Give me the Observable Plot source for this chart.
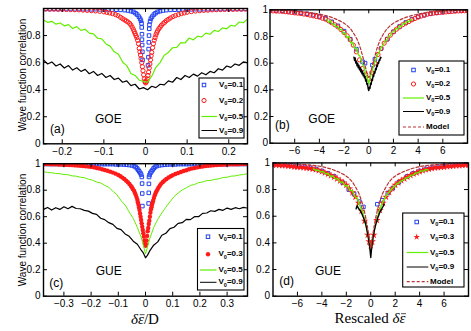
<!DOCTYPE html>
<html><head><meta charset="utf-8">
<script src="https://cdn.jsdelivr.net/npm/d3@7"></script>
<script src="https://cdn.jsdelivr.net/npm/@observablehq/plot@0.6"></script>
<style>
body{margin:0;background:#fff;}
#root{position:relative;width:471px;height:331px;overflow:hidden;background:#fff;}
#root svg{position:absolute;left:0;top:0;}
</style></head><body><div id="root"></div>
<script>
// ---------------- DATA ----------------
// Panel (a) GOE, x = delta eps / D
const blueA = [[-0.24,0.997],[-0.23,0.996],[-0.22,0.997],[-0.21,0.996],[-0.2,0.997],[-0.19,0.996],[-0.18,0.996],[-0.17,0.995],[-0.16,0.996],[-0.15,0.995],[-0.14,0.995],[-0.13,0.994],[-0.12,0.995],[-0.11,0.994],[-0.1,0.993],[-0.09,0.993],[-0.08,0.992],[-0.07,0.991],[-0.06,0.99],[-0.05,0.988],[-0.042,0.985],[-0.035,0.98],[-0.029,0.975],[-0.024,0.965],[-0.02,0.955],[-0.016,0.94],[-0.013,0.925],[-0.011,0.91],[-0.0095,0.89],[-0.009,0.86],[-0.0085,0.81],[-0.0085,0.77],[-0.008,0.73],[-0.0075,0.68],[-0.007,0.62],[0.006,0.58],[0.007,0.64],[0.0075,0.7],[0.008,0.75],[0.0085,0.8],[0.009,0.85],[0.0095,0.88],[0.011,0.905],[0.013,0.925],[0.016,0.94],[0.02,0.955],[0.024,0.965],[0.029,0.975],[0.035,0.98],[0.042,0.985],[0.05,0.988],[0.06,0.99],[0.07,0.991],[0.08,0.992],[0.09,0.993],[0.1,0.993],[0.11,0.994],[0.12,0.995],[0.13,0.994],[0.14,0.995],[0.15,0.995],[0.16,0.996],[0.17,0.995],[0.18,0.996],[0.19,0.996],[0.2,0.997],[0.21,0.996],[0.22,0.997],[0.23,0.996],[0.24,0.997]];
const redA = [[-0.24,0.996],[-0.23,0.995],[-0.22,0.995],[-0.21,0.994],[-0.2,0.994],[-0.19,0.993],[-0.18,0.992],[-0.17,0.991],[-0.16,0.99],[-0.15,0.988],[-0.14,0.986],[-0.13,0.984],[-0.12,0.982],[-0.11,0.979],[-0.1,0.975],[-0.093,0.971],[-0.086,0.967],[-0.079,0.962],[-0.072,0.955],[-0.066,0.947],[-0.06,0.935],[-0.055,0.925],[-0.05,0.915],[-0.046,0.907],[-0.042,0.9],[-0.038,0.89],[-0.035,0.878],[-0.032,0.862],[-0.029,0.845],[-0.027,0.83],[-0.025,0.815],[-0.023,0.8],[-0.021,0.785],[-0.019,0.765],[-0.017,0.74],[-0.015,0.705],[-0.0135,0.68],[-0.012,0.655],[-0.0105,0.63],[-0.009,0.6],[-0.0075,0.57],[-0.006,0.54],[-0.0045,0.51],[-0.003,0.48],[-0.0015,0.46],[0,0.45],[0.0015,0.455],[0.003,0.465],[0.0045,0.48],[0.006,0.505],[0.0075,0.53],[0.009,0.56],[0.0105,0.59],[0.012,0.62],[0.0135,0.65],[0.015,0.675],[0.017,0.71],[0.019,0.74],[0.021,0.765],[0.023,0.785],[0.025,0.805],[0.027,0.82],[0.029,0.835],[0.032,0.85],[0.035,0.862],[0.038,0.875],[0.042,0.888],[0.046,0.898],[0.05,0.91],[0.055,0.92],[0.06,0.93],[0.066,0.94],[0.072,0.948],[0.079,0.955],[0.086,0.962],[0.093,0.967],[0.1,0.972],[0.11,0.977],[0.12,0.981],[0.13,0.984],[0.14,0.986],[0.15,0.988],[0.16,0.99],[0.17,0.991],[0.18,0.992],[0.19,0.993],[0.2,0.994],[0.21,0.994],[0.22,0.995],[0.23,0.995],[0.24,0.996]];
const greenA = [[-0.245,0.915],[-0.235,0.898],[-0.225,0.905],[-0.215,0.884],[-0.205,0.893],[-0.195,0.872],[-0.185,0.881],[-0.175,0.852],[-0.165,0.866],[-0.155,0.838],[-0.145,0.847],[-0.135,0.818],[-0.125,0.812],[-0.115,0.78],[-0.105,0.775],[-0.095,0.738],[-0.085,0.722],[-0.075,0.68],[-0.065,0.662],[-0.055,0.605],[-0.045,0.578],[-0.035,0.52],[-0.025,0.505],[-0.015,0.47],[-0.005,0.462],[0.005,0.455],[0.015,0.5],[0.025,0.565],[0.035,0.6],[0.045,0.655],[0.055,0.675],[0.065,0.71],[0.075,0.712],[0.085,0.748],[0.095,0.745],[0.105,0.782],[0.115,0.768],[0.125,0.795],[0.135,0.79],[0.145,0.818],[0.155,0.81],[0.165,0.838],[0.175,0.83],[0.185,0.857],[0.195,0.85],[0.205,0.876],[0.215,0.87],[0.225,0.9],[0.235,0.895],[0.245,0.922]];
const blackA = [[-0.245,0.62],[-0.235,0.59],[-0.225,0.605],[-0.215,0.575],[-0.205,0.59],[-0.195,0.56],[-0.185,0.578],[-0.175,0.545],[-0.165,0.562],[-0.155,0.535],[-0.145,0.55],[-0.135,0.518],[-0.125,0.535],[-0.115,0.505],[-0.105,0.52],[-0.095,0.49],[-0.085,0.505],[-0.075,0.475],[-0.065,0.485],[-0.055,0.455],[-0.045,0.465],[-0.035,0.43],[-0.025,0.44],[-0.015,0.405],[-0.005,0.415],[0.005,0.4],[0.015,0.425],[0.025,0.415],[0.035,0.44],[0.045,0.435],[0.055,0.465],[0.065,0.455],[0.075,0.49],[0.085,0.475],[0.095,0.505],[0.105,0.49],[0.115,0.515],[0.125,0.5],[0.135,0.525],[0.145,0.51],[0.155,0.535],[0.165,0.525],[0.175,0.555],[0.185,0.545],[0.195,0.575],[0.205,0.565],[0.215,0.59],[0.225,0.58],[0.235,0.605],[0.245,0.6]];

// Panel (b) GOE rescaled
const blueB = [[-8,0.997],[-7.5,0.995],[-7,0.992],[-6.5,0.988],[-6,0.983],[-5.5,0.977],[-5,0.97],[-4.5,0.96],[-4,0.95],[-3.5,0.935],[-3,0.91],[-2.5,0.88],[-2,0.84],[-1.5,0.78],[-1,0.705],[-0.5,0.61],[-0.3,0.6],[0.3,0.585],[0.5,0.63],[1,0.71],[1.5,0.78],[2,0.835],[2.5,0.875],[3,0.905],[3.5,0.93],[4,0.948],[4.5,0.96],[5,0.97],[5.5,0.977],[6,0.983],[6.5,0.988],[7,0.992],[7.5,0.995],[8,0.997]];
const redB = [[-8,0.993],[-7.75,0.992],[-7.5,0.99],[-7.25,0.99],[-7,0.988],[-6.75,0.986],[-6.5,0.983],[-6.25,0.98],[-6,0.977],[-5.75,0.975],[-5.5,0.972],[-5.25,0.968],[-5,0.965],[-4.75,0.96],[-4.5,0.955],[-4.25,0.95],[-4,0.945],[-3.75,0.937],[-3.5,0.93],[-3.25,0.917],[-3,0.903],[-2.75,0.888],[-2.5,0.872],[-2.25,0.852],[-2,0.83],[-1.75,0.805],[-1.5,0.775],[-1.25,0.735],[-1,0.685],[-0.75,0.625],[-0.5,0.56],[-0.25,0.515],[0,0.48],[0.25,0.53],[0.5,0.6],[0.75,0.665],[1,0.71],[1.25,0.75],[1.5,0.78],[1.75,0.81],[2,0.835],[2.25,0.855],[2.5,0.872],[2.75,0.888],[3,0.9],[3.25,0.912],[3.5,0.925],[3.75,0.935],[4,0.945],[4.25,0.953],[4.5,0.96],[4.75,0.967],[5,0.972],[5.25,0.975],[5.5,0.978],[5.75,0.98],[6,0.982],[6.25,0.984],[6.5,0.986],[6.75,0.988],[7,0.99],[7.25,0.991],[7.5,0.992],[7.75,0.993],[8,0.994]];
const greenB = [[-3.4,0.93],[-3.25,0.905],[-3.1,0.92],[-2.95,0.89],[-2.8,0.895],[-2.65,0.87],[-2.5,0.875],[-2.35,0.85],[-2.2,0.855],[-2.05,0.82],[-1.9,0.825],[-1.75,0.79],[-1.6,0.8],[-1.45,0.75],[-1.3,0.755],[-1.15,0.71],[-1,0.715],[-0.85,0.665],[-0.7,0.65],[-0.55,0.6],[-0.4,0.575],[-0.25,0.52],[-0.1,0.48],[0,0.445],[0.1,0.49],[0.25,0.53],[0.4,0.585],[0.55,0.62],[0.7,0.665],[0.85,0.68],[1,0.72],[1.15,0.73],[1.3,0.765],[1.45,0.77],[1.6,0.8],[1.75,0.805],[1.9,0.835],[2.05,0.835],[2.2,0.86],[2.35,0.855],[2.5,0.88],[2.65,0.875],[2.8,0.9],[2.95,0.895],[3.1,0.915],[3.25,0.91],[3.4,0.93],[3.5,0.92]];
const blackB = [[-1.2,0.645],[-1.15,0.62],[-1.1,0.64],[-1.05,0.6],[-1,0.615],[-0.95,0.58],[-0.9,0.6],[-0.85,0.565],[-0.8,0.585],[-0.75,0.55],[-0.7,0.57],[-0.65,0.535],[-0.6,0.555],[-0.55,0.52],[-0.5,0.54],[-0.45,0.505],[-0.4,0.52],[-0.35,0.49],[-0.3,0.5],[-0.25,0.465],[-0.2,0.475],[-0.15,0.44],[-0.1,0.445],[-0.05,0.41],[0,0.395],[0.05,0.42],[0.1,0.41],[0.15,0.45],[0.2,0.44],[0.25,0.48],[0.3,0.47],[0.35,0.51],[0.4,0.5],[0.45,0.535],[0.5,0.525],[0.55,0.56],[0.6,0.55],[0.65,0.585],[0.7,0.575],[0.75,0.605],[0.8,0.6],[0.85,0.625],[0.9,0.62],[0.95,0.645],[1,0.64]];
const modelB = [[-8,0.998],[-7,0.996],[-6,0.99],[-5,0.982],[-4.4,0.975],[-4,0.968],[-3.4,0.955],[-3,0.943],[-2.6,0.928],[-2.3,0.915],[-2,0.9],[-1.7,0.878],[-1.45,0.855],[-1.2,0.82],[-0.95,0.78],[-0.8,0.745],[-0.65,0.705],[-0.5,0.655],[-0.35,0.6],[-0.2,0.545],[-0.08,0.505],[0,0.495],[0.08,0.505],[0.2,0.545],[0.35,0.6],[0.5,0.655],[0.65,0.705],[0.8,0.745],[0.95,0.78],[1.2,0.82],[1.45,0.855],[1.7,0.878],[2,0.9],[2.3,0.915],[2.6,0.928],[3,0.943],[3.4,0.955],[4,0.968],[4.4,0.975],[5,0.982],[6,0.99],[7,0.996],[8,0.998]];

// Panel (c) GUE
const blueC = [[-0.37,0.998],[-0.36,0.998],[-0.35,0.998],[-0.34,0.998],[-0.33,0.998],[-0.32,0.998],[-0.31,0.998],[-0.3,0.998],[-0.29,0.998],[-0.28,0.998],[-0.27,0.998],[-0.26,0.998],[-0.25,0.998],[-0.24,0.998],[-0.23,0.998],[-0.22,0.998],[-0.21,0.998],[-0.2,0.998],[-0.19,0.997],[-0.18,0.997],[-0.17,0.997],[-0.16,0.997],[-0.15,0.997],[-0.14,0.997],[-0.13,0.997],[-0.12,0.997],[-0.11,0.995],[-0.1,0.995],[-0.09,0.995],[-0.08,0.994],[-0.07,0.992],[-0.06,0.99],[-0.05,0.987],[-0.042,0.982],[-0.036,0.975],[-0.031,0.965],[-0.027,0.953],[-0.023,0.942],[-0.019,0.93],[-0.016,0.918],[-0.0135,0.9],[-0.0125,0.85],[-0.012,0.775],[-0.0115,0.68],[0.0115,0.7],[0.012,0.78],[0.0125,0.848],[0.013,0.9],[0.015,0.915],[0.018,0.93],[0.022,0.942],[0.026,0.953],[0.03,0.965],[0.035,0.975],[0.041,0.982],[0.05,0.987],[0.06,0.99],[0.07,0.992],[0.08,0.994],[0.09,0.995],[0.1,0.995],[0.11,0.995],[0.12,0.997],[0.13,0.997],[0.14,0.997],[0.15,0.997],[0.16,0.997],[0.17,0.997],[0.18,0.997],[0.19,0.997],[0.2,0.998],[0.21,0.998],[0.22,0.998],[0.23,0.998],[0.24,0.998],[0.25,0.998],[0.26,0.998],[0.27,0.998],[0.28,0.998],[0.29,0.998],[0.3,0.998],[0.31,0.998],[0.32,0.998],[0.33,0.998],[0.34,0.998],[0.35,0.998],[0.36,0.998],[0.37,0.998]];
const redC = [[-0.37,0.997],[-0.36,0.997],[-0.35,0.996],[-0.34,0.996],[-0.33,0.995],[-0.32,0.994],[-0.31,0.993],[-0.3,0.992],[-0.29,0.991],[-0.28,0.99],[-0.27,0.989],[-0.26,0.987],[-0.25,0.986],[-0.24,0.984],[-0.23,0.983],[-0.22,0.98],[-0.21,0.978],[-0.2,0.976],[-0.19,0.973],[-0.18,0.968],[-0.17,0.964],[-0.16,0.958],[-0.15,0.953],[-0.14,0.947],[-0.13,0.94],[-0.12,0.933],[-0.11,0.925],[-0.1,0.915],[-0.092,0.905],[-0.085,0.895],[-0.078,0.885],[-0.071,0.872],[-0.065,0.86],[-0.059,0.847],[-0.054,0.833],[-0.05,0.822],[-0.046,0.808],[-0.042,0.795],[-0.039,0.78],[-0.036,0.765],[-0.033,0.748],[-0.03,0.728],[-0.028,0.71],[-0.026,0.69],[-0.024,0.67],[-0.022,0.65],[-0.02,0.625],[-0.018,0.6],[-0.016,0.575],[-0.014,0.55],[-0.012,0.525],[-0.01,0.5],[-0.008,0.475],[-0.006,0.45],[-0.004,0.42],[-0.002,0.395],[0,0.38],[0.002,0.39],[0.004,0.42],[0.006,0.455],[0.008,0.49],[0.01,0.515],[0.012,0.545],[0.014,0.57],[0.016,0.6],[0.018,0.63],[0.02,0.655],[0.022,0.672],[0.024,0.69],[0.026,0.705],[0.028,0.72],[0.031,0.742],[0.034,0.762],[0.037,0.778],[0.04,0.79],[0.044,0.805],[0.048,0.82],[0.053,0.835],[0.058,0.85],[0.064,0.862],[0.07,0.873],[0.077,0.885],[0.085,0.896],[0.093,0.905],[0.1,0.913],[0.11,0.922],[0.12,0.93],[0.13,0.937],[0.14,0.945],[0.15,0.951],[0.16,0.958],[0.17,0.963],[0.18,0.968],[0.19,0.972],[0.2,0.976],[0.21,0.979],[0.22,0.982],[0.23,0.984],[0.24,0.986],[0.25,0.988],[0.26,0.99],[0.27,0.991],[0.28,0.992],[0.29,0.993],[0.3,0.994],[0.31,0.995],[0.32,0.995],[0.33,0.996],[0.34,0.996],[0.35,0.997],[0.36,0.997],[0.37,0.998]];
const greenC = [[-0.375,0.94],[-0.36,0.933],[-0.345,0.932],[-0.33,0.926],[-0.315,0.925],[-0.3,0.918],[-0.285,0.917],[-0.27,0.908],[-0.255,0.906],[-0.24,0.898],[-0.225,0.895],[-0.21,0.883],[-0.195,0.876],[-0.18,0.862],[-0.165,0.855],[-0.15,0.836],[-0.135,0.822],[-0.12,0.792],[-0.105,0.766],[-0.09,0.722],[-0.075,0.687],[-0.06,0.636],[-0.045,0.587],[-0.03,0.52],[-0.015,0.44],[-0.0075,0.38],[0,0.32],[0.0075,0.37],[0.015,0.43],[0.03,0.518],[0.045,0.58],[0.06,0.628],[0.075,0.672],[0.09,0.712],[0.105,0.752],[0.12,0.778],[0.135,0.802],[0.15,0.818],[0.165,0.836],[0.18,0.843],[0.195,0.857],[0.21,0.862],[0.225,0.872],[0.24,0.874],[0.255,0.882],[0.27,0.886],[0.285,0.896],[0.3,0.898],[0.315,0.906],[0.33,0.908],[0.345,0.915],[0.36,0.918],[0.375,0.925]];
const blackC = [[-0.375,0.655],[-0.36,0.67],[-0.345,0.65],[-0.33,0.668],[-0.315,0.655],[-0.3,0.675],[-0.285,0.66],[-0.27,0.678],[-0.255,0.662],[-0.24,0.66],[-0.225,0.648],[-0.21,0.642],[-0.195,0.625],[-0.18,0.618],[-0.165,0.588],[-0.15,0.578],[-0.135,0.555],[-0.12,0.542],[-0.105,0.512],[-0.09,0.502],[-0.075,0.47],[-0.06,0.452],[-0.045,0.415],[-0.03,0.392],[-0.015,0.345],[-0.0075,0.325],[0,0.29],[0.0075,0.31],[0.015,0.34],[0.03,0.385],[0.045,0.41],[0.06,0.46],[0.075,0.475],[0.09,0.51],[0.105,0.52],[0.12,0.55],[0.135,0.555],[0.15,0.58],[0.165,0.578],[0.18,0.6],[0.195,0.6],[0.21,0.625],[0.225,0.628],[0.24,0.645],[0.255,0.64],[0.27,0.655],[0.285,0.648],[0.3,0.665],[0.315,0.655],[0.33,0.668],[0.345,0.66],[0.36,0.67],[0.375,0.665]];

// Panel (d) GUE rescaled
const blueD = [[-8,0.99],[-7.5,0.988],[-7,0.985],[-6.5,0.982],[-6,0.978],[-5.5,0.972],[-5,0.965],[-4.5,0.955],[-4,0.94],[-3.5,0.922],[-3,0.9],[-2.3,0.852],[-1.8,0.8],[-1.36,0.767],[-0.95,0.71],[-0.6,0.67],[0.54,0.69],[0.95,0.72],[1.4,0.775],[1.8,0.81],[2.3,0.855],[3,0.9],[3.5,0.922],[4,0.94],[4.5,0.955],[5,0.965],[5.5,0.972],[6,0.978],[6.5,0.982],[7,0.985],[7.5,0.988],[8,0.99]];
const redD = [[-8,0.985],[-7.75,0.984],[-7.5,0.982],[-7.25,0.981],[-7,0.98],[-6.75,0.977],[-6.5,0.975],[-6.25,0.972],[-6,0.97],[-5.75,0.967],[-5.5,0.965],[-5.25,0.962],[-5,0.96],[-4.75,0.955],[-4.5,0.95],[-4.25,0.943],[-4,0.935],[-3.75,0.926],[-3.5,0.917],[-3.25,0.906],[-3,0.895],[-2.75,0.882],[-2.5,0.867],[-2.25,0.852],[-2,0.835],[-1.75,0.807],[-1.5,0.778],[-1.25,0.745],[-1,0.7],[-0.75,0.64],[-0.5,0.565],[-0.25,0.46],[-0.12,0.41],[0,0.38],[0.12,0.41],[0.25,0.46],[0.5,0.57],[0.75,0.645],[1,0.7],[1.25,0.745],[1.5,0.78],[1.75,0.808],[2,0.835],[2.25,0.852],[2.5,0.868],[2.75,0.882],[3,0.895],[3.25,0.907],[3.5,0.918],[3.75,0.927],[4,0.935],[4.25,0.943],[4.5,0.95],[4.75,0.955],[5,0.96],[5.25,0.963],[5.5,0.966],[5.75,0.968],[6,0.97],[6.25,0.973],[6.5,0.975],[6.75,0.977],[7,0.98],[7.25,0.981],[7.5,0.982],[7.75,0.984],[8,0.985]];
const greenD = [[-4.7,0.955],[-4.5,0.945],[-4.3,0.947],[-4.1,0.932],[-3.9,0.935],[-3.7,0.918],[-3.5,0.92],[-3.3,0.9],[-3.1,0.902],[-2.9,0.88],[-2.7,0.882],[-2.5,0.855],[-2.3,0.858],[-2.1,0.828],[-1.9,0.83],[-1.7,0.795],[-1.5,0.79],[-1.3,0.748],[-1.1,0.735],[-0.9,0.68],[-0.7,0.64],[-0.5,0.57],[-0.3,0.49],[-0.1,0.4],[0,0.33],[0.1,0.4],[0.3,0.5],[0.5,0.575],[0.7,0.64],[0.9,0.69],[1.1,0.725],[1.3,0.76],[1.5,0.78],[1.7,0.805],[1.9,0.82],[2.1,0.84],[2.3,0.85],[2.5,0.865],[2.7,0.872],[2.9,0.888],[3.1,0.892],[3.3,0.908],[3.5,0.91],[3.7,0.925],[3.9,0.926],[4.1,0.94],[4.3,0.938],[4.5,0.95],[4.7,0.948]];
const blackD = [[-1.2,0.655],[-1.15,0.672],[-1.1,0.678],[-1.05,0.665],[-1,0.66],[-0.95,0.652],[-0.9,0.648],[-0.85,0.64],[-0.8,0.632],[-0.75,0.622],[-0.7,0.612],[-0.65,0.6],[-0.6,0.59],[-0.55,0.578],[-0.5,0.565],[-0.45,0.55],[-0.4,0.535],[-0.35,0.515],[-0.3,0.49],[-0.25,0.465],[-0.2,0.44],[-0.15,0.41],[-0.1,0.38],[-0.05,0.34],[0,0.29],[0.05,0.34],[0.1,0.385],[0.15,0.415],[0.2,0.445],[0.25,0.47],[0.3,0.495],[0.35,0.515],[0.4,0.535],[0.45,0.55],[0.5,0.565],[0.55,0.58],[0.6,0.595],[0.65,0.605],[0.7,0.62],[0.75,0.63],[0.8,0.64],[0.85,0.648],[0.9,0.655],[0.95,0.665],[1,0.672],[1.05,0.682],[1.1,0.69]];
const modelD = [[-8,0.995],[-7,0.993],[-6,0.99],[-5,0.985],[-4.35,0.978],[-3.8,0.968],[-3.27,0.955],[-2.7,0.935],[-2.18,0.912],[-1.8,0.887],[-1.5,0.857],[-1.2,0.812],[-0.95,0.767],[-0.75,0.715],[-0.54,0.645],[-0.4,0.585],[-0.27,0.52],[-0.13,0.44],[0,0.355],[0.13,0.44],[0.27,0.52],[0.4,0.585],[0.54,0.645],[0.75,0.715],[0.95,0.767],[1.2,0.812],[1.5,0.857],[1.8,0.887],[2.18,0.912],[2.7,0.935],[3.27,0.955],[3.8,0.968],[4.35,0.978],[5,0.985],[6,0.99],[7,0.993],[8,0.995]];

// Tick values and legend labels
const ticksXA = [-0.2,-0.1,0,0.1,0.2];
const ticksXC = [-0.3,-0.2,-0.1,0,0.1,0.2,0.3];
const ticksXR = [-6,-4,-2,0,2,4,6];
const ticksY = [0,0.2,0.4,0.6,0.8];
const ticksY1 = [0,0.2,0.4,0.6,0.8,1];
const legendGOE = ["0.1","0.2","0.5","0.9"];
const legendGUE = ["0.1","0.3","0.5","0.9"];

// ---------------- STYLE ----------------
const BLUE = "#2040f0", RED = "#ff1a1a", GREEN = "#62ee00", MODEL = "#b83232";
const SANS = "'Liberation Sans', Arial, Helvetica, sans-serif";
const SERIF = "'Liberation Serif', 'DejaVu Serif', serif";
const fmt = d => d === 0 ? "0" : (d < 0 ? "\u2212" : "") + Math.abs(d);
const X = d => d[0], Y = d => d[1];

const sq = data => Plot.dot(data, {x: X, y: Y, symbol: "square", r: 2, stroke: BLUE, fill: "none", strokeWidth: 1, clip: true});
const ring = data => Plot.dot(data, {x: X, y: Y, r: 2.1, stroke: RED, fill: "none", strokeWidth: 1, clip: true});
const dotF = data => Plot.dot(data, {x: X, y: Y, r: 2.2, fill: RED, stroke: "none", clip: true});
const star = data => Plot.dot(data, {x: X, y: Y, symbol: "star", r: 2.4, fill: RED, stroke: "none", clip: true});
const ln = (data, c, w, dash) => Plot.line(data, {x: X, y: Y, stroke: c, strokeWidth: w, strokeDasharray: dash, clip: true});

function panel(o) {
  const [l, r, t, b] = o.box;
  const [x0, x1] = o.xDomain;
  const ky = 4 / (b - t), kx = 4 * (x1 - x0) / (r - l);
  return Plot.plot({
    width: 471, height: 331,
    marginLeft: l, marginRight: 471 - r, marginTop: t, marginBottom: 331 - b,
    x: {domain: o.xDomain}, y: {domain: [0, 1]},
    style: {background: "transparent", overflow: "visible", fontFamily: SANS},
    marks: [
      ...o.marks,
      Plot.ruleX(o.xTicks, {x: d => d, y1: 0, y2: ky, stroke: "black"}),
      Plot.ruleX(o.xTicks, {x: d => d, y1: 1 - ky, y2: 1, stroke: "black"}),
      Plot.ruleY(ticksY1, {y: d => d, x1: x0, x2: x0 + kx, stroke: "black"}),
      Plot.ruleY(ticksY1, {y: d => d, x1: x1 - kx, x2: x1, stroke: "black"}),
      Plot.axisX({ticks: o.xTicks, tickSize: 0, tickPadding: 4, tickFormat: fmt, fontSize: 10, label: null}),
      Plot.axisY({ticks: o.yTicks, tickSize: 0, tickPadding: o.yPad, tickFormat: fmt, fontSize: 10, label: null}),
      Plot.frame({stroke: "black", strokeWidth: 1.4})
    ]
  });
}

const root = document.getElementById("root");
root.append(panel({box: [43, 247, 8, 143.3], xDomain: [-0.245, 0.245], xTicks: ticksXA, yTicks: ticksY, yPad: 3,
  marks: [sq(blueA), ring(redA), ln(greenA, GREEN, 1.2), ln(blackA, "black", 1.2)]}));
root.append(panel({box: [269.5, 467, 9.3, 142.7], xDomain: [-8, 8], xTicks: ticksXR, yTicks: ticksY1, yPad: 2,
  marks: [sq(blueB), ring(redB), ln(greenB, GREEN, 1.3), ln(blackB, "black", 1.4), ln(modelB, MODEL, 1.2, "3,2")]}));
root.append(panel({box: [43, 247, 163.2, 295.7], xDomain: [-0.375, 0.375], xTicks: ticksXC, yTicks: ticksY1, yPad: 3,
  marks: [sq(blueC), dotF(redC), ln(greenC, GREEN, 1), ln(blackC, "black", 1.2)]}));
root.append(panel({box: [272.5, 468, 162.4, 295.7], xDomain: [-8, 8], xTicks: ticksXR, yTicks: ticksY1, yPad: 3,
  marks: [sq(blueD), star(redD), ln(greenD, GREEN, 1.4), ln(blackD, "black", 1.4), ln(modelD, MODEL, 1.2, "3,2")]}));

// ---------------- TEXT & LEGENDS ----------------
const ov = d3.select(root).append("svg").attr("width", 471).attr("height", 331).style("font-family", SANS);

[75, 230].forEach(cy => {
  ov.append("text").attr("transform", `translate(22.7,${cy}) rotate(-90)`).attr("text-anchor", "middle")
    .attr("dy", "0.35em").attr("font-size", 10).text("Wave function correlation");
});

// x-axis labels with a bar drawn over epsilon
function epsLabel(x, y, prefix, suffix) {
  const t = ov.append("text").attr("x", x).attr("y", y).attr("text-anchor", "middle").attr("font-family", SERIF).attr("font-size", 15);
  if (prefix) t.append("tspan").text(prefix);
  t.append("tspan").attr("font-style", "italic").text("\u03b4\u03b5");
  if (suffix) t.append("tspan").text(suffix);
  const idx = (prefix ? prefix.length : 0) + 1;
  const e = t.node().getExtentOfChar(idx);
  ov.append("line").attr("x1", e.x + 1.6).attr("x2", e.x + e.width + 0.6).attr("y1", y - 9.3).attr("y2", y - 9.3)
    .attr("stroke", "#222").attr("stroke-width", 0.8);
}
epsLabel(145, 324, "", "/D");
epsLabel(370, 323, "Rescaled ", "");

[["GOE", 95, 123.3], ["(a)", 50, 132.5], ["GOE", 308.3, 122.7], ["(b)", 275, 129.2],
 ["GUE", 95.7, 275], ["(c)", 49.3, 286.5], ["GUE", 315, 275], ["(d)", 279.3, 284.5]].forEach(([s, x, y]) => {
  ov.append("text").attr("x", x).attr("y", y).attr("font-size", 12).text(s);
});

function legend(L) {
  const g = ov.append("g");
  g.append("rect").attr("x", L.box[0]).attr("y", L.box[1]).attr("width", L.box[2] - L.box[0]).attr("height", L.box[3] - L.box[1])
    .attr("fill", "white").attr("stroke", "black").attr("stroke-width", 1.1);
  L.rows.forEach((row, i) => {
    const y = L.ys[i];
    if (row.kind === "square") g.append("rect").attr("x", L.sx - 1.75).attr("y", y - 1.75).attr("width", 3.5).attr("height", 3.5).attr("fill", "none").attr("stroke", BLUE);
    else if (row.kind === "ring") g.append("circle").attr("cx", L.sx).attr("cy", y).attr("r", 2.1).attr("fill", "none").attr("stroke", RED);
    else if (row.kind === "dot") g.append("circle").attr("cx", L.sx).attr("cy", y).attr("r", 2.2).attr("fill", RED);
    else if (row.kind === "star") g.append("path").attr("transform", `translate(${L.sx},${y})`).attr("d", d3.symbol(d3.symbolStar, 13)()).attr("fill", RED);
    else g.append("line").attr("x1", L.l1).attr("x2", L.l2).attr("y1", y).attr("y2", y).attr("stroke", row.color)
      .attr("stroke-width", row.w || 1.2).attr("stroke-dasharray", row.dash || null);
    const t = g.append("text").attr("x", L.tx).attr("y", y + 2).attr("font-size", 8).attr("font-weight", "bold");
    if (row.label === "Model") t.text("Model");
    else {
      t.append("tspan").text("V");
      t.append("tspan").attr("font-size", 5.5).attr("dy", 2.2).text("0");
      t.append("tspan").attr("dy", -2.2).text("=" + row.label);
    }
  });
}
const rowsGOE = [{kind: "square", label: legendGOE[0]}, {kind: "ring", label: legendGOE[1]},
  {kind: "line", color: GREEN, label: legendGOE[2]}, {kind: "line", color: "black", w: 1, label: legendGOE[3]}];
const rowsGUE = (k) => [{kind: "square", label: legendGUE[0]}, {kind: k, label: legendGUE[1]},
  {kind: "line", color: GREEN, label: legendGUE[2]}, {kind: "line", color: "black", w: 1, label: legendGUE[3]}];
const modelRow = {kind: "line", color: MODEL, dash: "3,2", label: "Model"};
legend({box: [199, 78, 244, 138], sx: 204, l1: 201.5, l2: 217, tx: 219, ys: [85, 100.5, 116.5, 130.5], rows: rowsGOE});
legend({box: [399, 61, 464, 135], sx: 413.5, l1: 403, l2: 424, tx: 426, ys: [70, 84, 98, 111.5, 127], rows: [...rowsGOE, modelRow]});
legend({box: [197.5, 228.5, 244, 290], sx: 208, l1: 200, l2: 216.5, tx: 218.5, ys: [236.7, 254.3, 270, 282.3], rows: rowsGUE("dot")});
legend({box: [402.7, 213, 464, 287], sx: 416.7, l1: 406.7, l2: 428.3, tx: 430, ys: [222, 237, 252.5, 267, 281.7], rows: [...rowsGUE("star"), modelRow]});
</script></body></html>
